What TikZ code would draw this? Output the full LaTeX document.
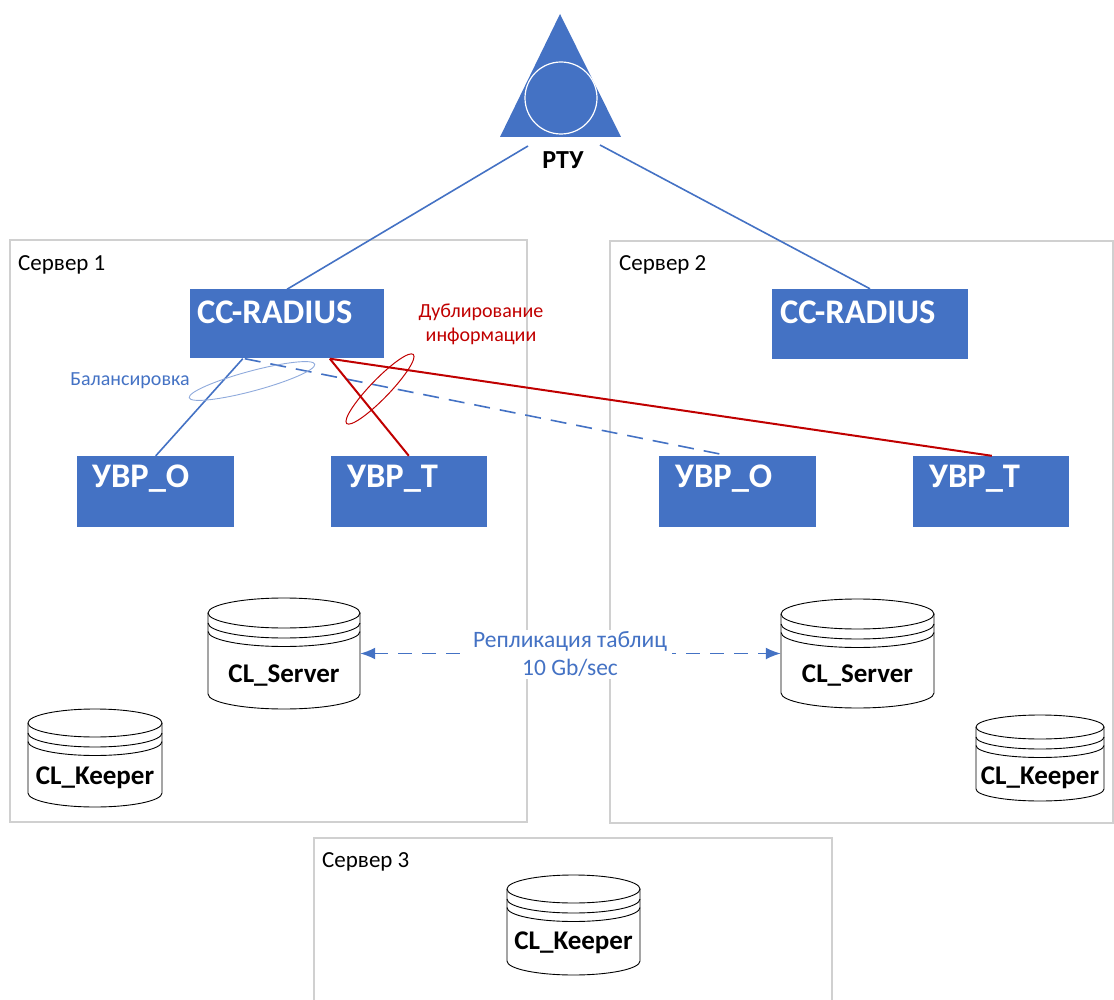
\documentclass[tikz,border=0pt]{standalone}
\usepackage{fontspec}
\setmainfont{Carlito}
\usetikzlibrary{arrows.meta,shapes.geometric}
\definecolor{ofblue}{HTML}{4472C4}
\definecolor{ofred}{HTML}{C00000}
\definecolor{framegray}{HTML}{D0D0D0}
\definecolor{ellblue}{HTML}{8FAADC}
\newcommand\dbcyl[8]{%
 \pgfmathsetmacro\cylrx{(#3-#2)/2}%
 \pgfmathsetmacro\cylcx{(#3+#2)/2}%
 \pgfmathsetmacro\cylcy{(#4+#5)/2}%
 \pgfmathsetmacro\cylw{#3-#2}%
 \pgfmathsetmacro\cylh{#5-#4+2*#6}%
 \fill[white] (#2,#4) -- (#2,#5) arc[start angle=180,end angle=360,x radius=\cylrx pt,y radius=#6 pt] -- (#3,#4) arc[start angle=0,end angle=180,x radius=\cylrx pt,y radius=#6 pt] -- cycle;
 \draw[cylline] (#2,#4) -- (#2,#5) arc[start angle=180,end angle=360,x radius=\cylrx pt,y radius=#6 pt] -- (#3,#4);
 \draw[cylline] (\cylcx,#4) ellipse[x radius=\cylrx pt,y radius=#6 pt];
 \draw[cylline] (#2,#4+10) arc[start angle=180,end angle=360,x radius=\cylrx pt,y radius=#6 pt];
 \draw[cylline] (#2,#4+18.5) arc[start angle=180,end angle=360,x radius=\cylrx pt,y radius=#6 pt];
 \node[cylbox, minimum width=\cylw pt, minimum height=\cylh pt] (#1) at (\cylcx,\cylcy) {};
 \node[cyltext] (#1-t) at (\cylcx,#7) {#8};
}
\begin{document}
\begin{tikzpicture}[x=1pt,y=-1pt,
  server/.style={draw=framegray, line width=1.2pt},
  srvlabel/.style={anchor=west, inner sep=0, font=\fontsize{23}{27}\selectfont},
  bluebox/.style={fill=ofblue, draw=none, inner sep=0},
  boxtext/.style={anchor=west, inner sep=0, text=white, font=\bfseries\fontsize{34.5}{40}\selectfont},
  cylline/.style={draw=black, line width=0.9pt},
  cylbox/.style={draw=none, inner sep=0},
  cyltext/.style={inner sep=0, font=\bfseries\fontsize{27}{32}\selectfont},
  blueline/.style={draw=ofblue, line width=1.6pt},
  redline/.style={draw=ofred, line width=2pt},
  bluedash/.style={draw=ofblue, line width=1.6pt, dash pattern=on 16pt off 10pt},
  reparrow/.style={draw=ofblue, line width=1.8pt, dash pattern=on 14pt off 10pt, {Latex[length=15pt,width=12pt]}-{Latex[length=15pt,width=12pt]}},
  replabel/.style={fill=white, inner xsep=5pt, inner ysep=2pt, align=center, text=ofblue, font=\fontsize{23.5}{28}\selectfont},
]
\useasboundingbox (0,0) rectangle (1114,1000);

% server frames
\draw[server] (10,240) rectangle (527,822);
\draw[server] (610,241) rectangle (1113,823);
\draw[server] (314,1001) -- (314,838) -- (832,838) -- (832,1001);
\node[srvlabel] (s1) at (18,265) {Сервер 1};
\node[srvlabel] (s2) at (619,265) {Сервер 2};
\node[srvlabel] (s3) at (322,862) {Сервер 3};

% RTU
\fill[ofblue] (560,14) -- (621,137) -- (500,137) -- cycle;
\draw[white, line width=1.2pt, fill=ofblue] (561,98) circle[radius=36pt];
\node[inner sep=0, font=\bfseries\fontsize{26}{30}\selectfont] (rtu) at (563,160) {РТУ};
\coordinate (rtuL) at (528,146);
\coordinate (rtuR) at (600,145);

% blue boxes
\node[bluebox, minimum width=194pt, minimum height=69pt] (ccr1) at (287,324) {};
\node[boxtext] (ccr1t) at (197,312) {CC-RADIUS};
\node[bluebox, minimum width=196pt, minimum height=70pt] (ccr2) at (870,324) {};
\node[boxtext] (ccr2t) at (780,312) {CC-RADIUS};
\node[bluebox, minimum width=157pt, minimum height=71pt] (uo1) at (155.5,491.5) {};
\node[boxtext] (uo1t) at (92,479) {УВР\_О};
\node[bluebox, minimum width=156pt, minimum height=71pt] (ut1) at (409,491.5) {};
\node[boxtext] (ut1t) at (347,479) {УВР\_Т};
\node[bluebox, minimum width=157pt, minimum height=71pt] (uo2) at (737.5,491.5) {};
\node[boxtext] (uo2t) at (675,479) {УВР\_О};
\node[bluebox, minimum width=156pt, minimum height=71pt] (ut2) at (991,491.5) {};
\node[boxtext] (ut2t) at (929,479) {УВР\_Т};

% connectors
\draw[blueline] (rtuL) -- (ccr1.north);
\draw[blueline] (rtuR) -- (ccr2.north);
\draw[blueline] ([xshift=53pt]ccr1.south west) -- ([xshift=79pt]uo1.north west);
\draw[bluedash] ([xshift=55pt]ccr1.south west) -- ([xshift=70pt]uo2.north west);
\draw[redline] ([xshift=140pt]ccr1.south west) -- ([xshift=78pt]ut1.north west);
\draw[redline] ([xshift=140pt]ccr1.south west) -- ([xshift=79pt]ut2.north west);

% ellipses
\node[draw=ellblue, line width=0.9pt, ellipse, minimum width=130pt, minimum height=20pt, inner sep=0, rotate=15] (bal) at (252,381) {};
\node[draw=ofred, line width=1pt, ellipse, minimum width=96pt, minimum height=19pt, inner sep=0, rotate=46] (dub) at (380,389) {};
\node[inner sep=0, text=ofblue, font=\fontsize{20}{24}\selectfont] (balt) at (130,381) {Балансировка};
\node[inner sep=0, text=ofred, align=center, font=\fontsize{20}{24}\selectfont] (dubt) at (481,324) {Дублирование\\информации};

% databases
\dbcyl{cls1}{208}{360}{613}{694}{15}{676}{CL\_Server}
\dbcyl{cls2}{781}{934}{614}{693}{15}{676}{CL\_Server}
\dbcyl{clk1}{28}{162}{723}{793}{14}{778}{CL\_Keeper}
\dbcyl{clk2}{976}{1104}{727}{789}{12}{778}{CL\_Keeper}
\dbcyl{clk3}{507}{640}{889}{961}{14}{943}{CL\_Keeper}

% replication
\draw[reparrow] (cls1.east) -- (cls2.west);
\node[replabel] (rep) at (570,654) {Репликация таблиц\\10 Gb/sec};
\end{tikzpicture}
\end{document}
